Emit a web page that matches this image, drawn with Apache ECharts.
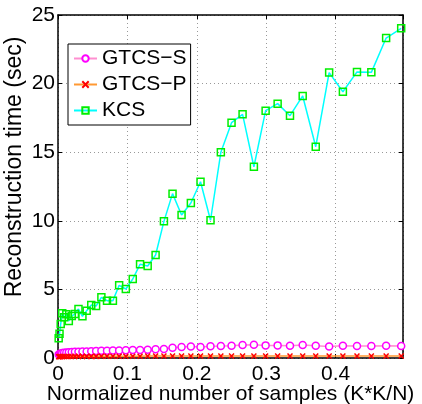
<!DOCTYPE html>
<html>
<head>
<meta charset="utf-8">
<script src="https://cdn.jsdelivr.net/npm/echarts@6/dist/echarts.min.js"></script>
<style>html,body{margin:0;padding:0;background:#fff;}#c{width:422px;height:404px;}</style>
</head>
<body>
<div id="c"></div>
<script>
// x positions: normalized number of samples (K*K/N)
const xValues = [0.00098,0.0022,0.0039,0.0061,0.0088,0.012,0.0156,0.0198,0.0244,0.0295,
  0.0352,0.0413,0.0479,0.0549,0.0625,0.0706,0.0791,0.0881,0.0977,0.1077,
  0.1182,0.1292,0.1406,0.1526,0.165,0.178,0.1914,0.2053,0.2197,0.2346,
  0.25,0.2659,0.2822,0.2991,0.3164,0.3342,0.3525,0.3713,0.3906,0.4104,
  0.4307,0.4514,0.4727,0.4944];
const gtcsS = [0.25,0.30,0.33,0.36,0.38,0.40,0.42,0.43,0.45,0.46,
  0.47,0.48,0.50,0.51,0.52,0.53,0.54,0.55,0.56,0.58,
  0.59,0.60,0.63,0.66,0.75,0.80,0.83,0.80,0.85,0.87,
  0.90,0.95,0.97,0.92,0.92,0.90,0.95,0.90,0.83,0.90,
  0.87,0.87,0.90,0.87];
const gtcsP = [0.09,0.10,0.10,0.10,0.11,0.11,0.11,0.11,0.12,0.12,
  0.12,0.12,0.12,0.12,0.13,0.13,0.13,0.13,0.13,0.13,
  0.13,0.14,0.14,0.14,0.14,0.14,0.14,0.14,0.15,0.15,
  0.15,0.15,0.15,0.15,0.15,0.15,0.15,0.15,0.15,0.15,
  0.15,0.15,0.15,0.15];
const kcs = [1.44,1.77,2.48,3.26,2.97,3.18,2.70,3.06,3.21,3.57,
  3.04,3.45,3.86,3.79,4.42,4.18,4.18,5.30,5.03,5.76,
  6.83,6.71,7.51,9.96,11.98,10.42,11.30,12.85,10.04,14.99,
  17.15,17.76,13.94,18.03,18.54,17.66,19.10,15.40,20.80,19.41,
  20.85,20.82,23.32,24.03];
const xTicks = ['0','0.1','0.2','0.3','0.4'];
const yTicks = ['0','5','10','15','20','25'];
const seriesNames = ['GTCS\u2212S','GTCS\u2212P','KCS'];

const zip = (ys) => xValues.map((x, i) => [x, ys[i]]);
const FONT = 'Liberation Sans, Arial, sans-serif';
const chart = echarts.init(document.getElementById('c'), null, {renderer: 'canvas'});
const grid = {left: 58, right: 19, top: 15, bottom: 46, containLabel: false, outerBoundsMode: 'none'};
const split = {show: true, lineStyle: {type: [1, 3], color: '#999', width: 1}};
chart.setOption({
  animation: false,
  backgroundColor: '#fff',
  grid: grid,
  legend: {
    orient: 'vertical', left: 68, top: 44,
    backgroundColor: '#fff', borderColor: '#000', borderWidth: 1, borderRadius: 0,
    padding: [4, 4, 4, 5], itemGap: 5, itemWidth: 23, itemHeight: 8, itemTextGap: 3,
    textStyle: {fontFamily: FONT, fontSize: 21, color: '#000', lineHeight: 21},
    data: seriesNames
  },
  xAxis: [{
    type: 'value', min: 0, max: 0.497, interval: 0.1,
    name: 'Normalized number of samples (K*K/N)', nameLocation: 'middle', nameGap: 26,
    nameMoveOverlap: false,
    nameTextStyle: {fontFamily: FONT, fontSize: 21, color: '#000', verticalAlign: 'top'},
    axisLine: {show: true, onZero: false, lineStyle: {color: '#000', width: 1.5}},
    axisTick: {show: true, inside: true, length: 4, lineStyle: {color: '#000'}},
    axisLabel: {fontFamily: FONT, fontSize: 21, color: '#000', margin: 6, showMaxLabel: false,
      formatter: (v) => { const i = Math.round(v * 10); return (Math.abs(v - i / 10) < 1e-6 && i < xTicks.length) ? xTicks[i] : ''; }},
    splitLine: split
  }, {
    type: 'value', position: 'top', min: 0, max: 0.497, interval: 0.1,
    axisLine: {show: true, onZero: false, lineStyle: {color: '#000', width: 1.5}},
    axisTick: {show: true, inside: true, length: 4, lineStyle: {color: '#000'}},
    axisLabel: {show: false}, splitLine: {show: false}
  }],
  yAxis: [{
    type: 'value', min: 0, max: 25, interval: 5,
    axisLine: {show: true, onZero: false, lineStyle: {color: '#000', width: 1.5}},
    axisTick: {show: true, inside: true, length: 4, lineStyle: {color: '#000'}},
    axisLabel: {fontFamily: FONT, fontSize: 21, color: '#000', margin: 3,
      formatter: (v) => yTicks[Math.round(v / 5)]},
    splitLine: split
  }, {
    type: 'value', position: 'right', min: 0, max: 25, interval: 5,
    axisLine: {show: true, onZero: false, lineStyle: {color: '#000', width: 1.5}},
    axisTick: {show: true, inside: true, length: 4, lineStyle: {color: '#000'}},
    axisLabel: {show: false}, splitLine: {show: false}
  }],
  graphic: [{
    type: 'text', x: 15, y: 167, rotation: Math.PI / 2,
    style: {text: 'Reconstruction time (sec)', fontFamily: FONT, fontSize: 23, fill: '#000',
      align: 'center', verticalAlign: 'middle'}
  }],
  series: [{
    name: seriesNames[0], type: 'line', data: zip(gtcsS), z: 3,
    symbol: 'circle', symbolSize: 7, showAllSymbol: true,
    lineStyle: {color: '#ff8fd0', width: 1.5},
    itemStyle: {color: '#fff', borderColor: '#ff00ff', borderWidth: 1.5}
  }, {
    name: seriesNames[1], type: 'line', data: zip(gtcsP), z: 4,
    symbol: 'path://M0,0L10,10M10,0L0,10', symbolSize: 5, showAllSymbol: true,
    lineStyle: {color: '#ff9933', width: 1.5},
    itemStyle: {color: '#ff0000', borderColor: '#ff0000', borderWidth: 1.5}
  }, {
    name: seriesNames[2], type: 'line', data: zip(kcs), z: 5,
    symbol: 'rect', symbolSize: 7, showAllSymbol: true,
    lineStyle: {color: '#00ffff', width: 1.5},
    itemStyle: {color: 'rgba(0,0,0,0)', borderColor: '#00ee00', borderWidth: 1.5}
  }]
});
</script>
</body>
</html>
